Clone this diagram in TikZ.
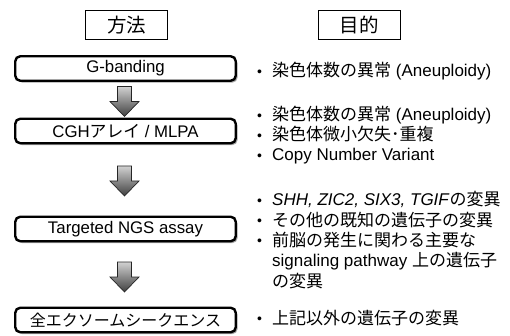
\documentclass[tikz,border=0pt]{standalone}
\usepackage{fontspec}
\setmainfont{Liberation Sans}
\newfontfamily\jpfont{Noto Sans CJK JP}
\newcommand{\jp}[1]{{\jpfont #1}}
\usetikzlibrary{shadows}
\begin{document}
\begin{tikzpicture}[x=1pt,y=-1pt,
  headbox/.style={draw, line width=0.8pt, minimum width=82pt, minimum height=29pt, inner sep=0,
    font=\fontsize{19.5}{22}\selectfont\jpfont},
  stepbox/.style={draw, rounded corners=5pt, line width=2.4pt, fill=white,
    minimum width=220.5pt, minimum height=24.5pt, inner sep=0,
    font=\fontsize{16.8}{19}\selectfont,
    drop shadow={shadow xshift=1.8pt, shadow yshift=-1.8pt, opacity=0.35, fill=black}},
  item/.style={anchor=base west, inner sep=0, font=\fontsize{17}{20}\selectfont},
  bulletmark/.style={anchor=base west, inner sep=0, font=\fontsize{14}{16}\selectfont},
  blockarrow/.style={draw=black!85, line width=0.7pt, line join=miter,
    top color=black!18, bottom color=black!75},
  downarrow/.pic={\path[blockarrow] (-7,0) -- (7,0) -- (7,15) -- (14.5,15) -- (0,30) -- (-14.5,15) -- (-7,15) -- cycle;}
]
\useasboundingbox (0,0) rectangle (510,336);

% headers
\node[headbox] (hmethod) at (126.5,25) {方法};
\node[headbox] (hgoal) at (359,25) {目的};

% method boxes
\node[stepbox] (gband) at (125.5,68.5) {G-banding};
\node[stepbox] (cgh) at (125.5,131) {CGH\jp{アレイ} / MLPA};
\node[stepbox] (ngs) at (125.5,229) {Targeted NGS assay};
\node[stepbox, font=\fontsize{16}{19}\selectfont\jpfont] (wes) at (125.5,320) {全エクソームシークエンス};

% block arrows
\pic at (124.5,86.5) {downarrow};
\pic at (124.5,166) {downarrow};
\pic at (124.5,262) {downarrow};

% bullets
\foreach \yy in {77,121,141,161,206,226,246,324}
  \node[bulletmark] at (257,\yy-0.5) {•};

\node[item] (t1) at (272,77) {\jp{染色体数の異常} (Aneuploidy)};
\node[item] (t2) at (272,121) {\jp{染色体数の異常} (Aneuploidy)};
\node[item] (t3) at (272,141) {\jp{染色体微小欠失･重複}};
\node[item] (t4) at (272,161) {Copy Number Variant};
\node[item] (t5) at (272,206) {\textit{SHH, ZIC2, SIX3, TGIF}\jp{の変異}};
\node[item] (t6) at (272,226) {\jp{その他の既知の遺伝子の変異}};
\node[item] (t7) at (272,246) {\jp{前脳の発生に関わる主要な}};
\node[item] (t8) at (272,266) {signaling pathway \jp{上の遺伝子}};
\node[item] (t9) at (272,287) {\jp{の変異}};
\node[item] (t10) at (272,324) {\jp{上記以外の遺伝子の変異}};
\end{tikzpicture}
\end{document}
